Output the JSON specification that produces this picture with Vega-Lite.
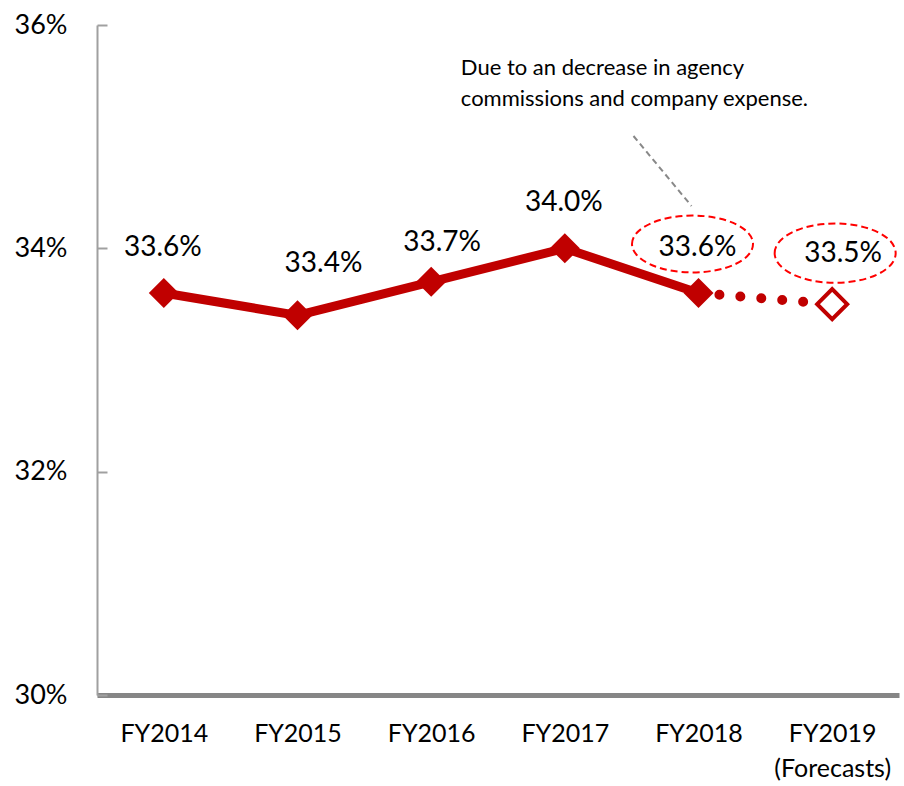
{
  "$schema": "https://vega.github.io/schema/vega-lite/v6.json",
  "width": 802,
  "height": 670,
  "autosize": {"type": "none"},
  "padding": {"left": 97, "top": 25, "right": 5, "bottom": 91},
  "background": "white",
  "config": {"view": {"stroke": null}, "font": "Lato"},
  "data": {
    "values": [
      {"year": "FY2014", "value": 0.336},
      {"year": "FY2015", "value": 0.334},
      {"year": "FY2016", "value": 0.337},
      {"year": "FY2017", "value": 0.340},
      {"year": "FY2018", "value": 0.336},
      {"year": "FY2019", "value": 0.335}
    ]
  },
  "encoding": {
    "x": {
      "field": "year",
      "type": "ordinal",
      "scale": {"type": "point", "padding": 0.5},
      "axis": {
        "title": null,
        "labelAngle": 0,
        "labelFont": "Lato",
        "labelFontSize": 25,
        "labelColor": "#000000",
        "ticks": false,
        "labelPadding": 26,
        "domainColor": "#868686",
        "domainWidth": 5,
        "labelLineHeight": 35,
        "labelExpr": "datum.value == 'FY2019' ? ['FY2019', '(Forecasts)'] : datum.label",
        "grid": false
      }
    },
    "y": {
      "field": "value",
      "type": "quantitative",
      "scale": {"domain": [0.30, 0.36], "nice": false, "zero": false},
      "axis": {
        "title": null,
        "values": [0.30, 0.32, 0.34, 0.36],
        "format": ".0%",
        "labelFont": "Lato",
        "labelFontSize": 27,
        "labelColor": "#000000",
        "tickSize": -10,
        "tickColor": "#A0A0A0",
        "tickWidth": 2,
        "domainColor": "#A0A0A0",
        "domainWidth": 2,
        "labelPadding": 40,
        "grid": false
      }
    }
  },
  "layer": [
    {
      "transform": [{"filter": "datum.year != 'FY2019'"}],
      "mark": {"type": "line", "color": "#C00000", "strokeWidth": 9}
    },
    {
      "transform": [{"filter": "datum.year == 'FY2018' || datum.year == 'FY2019'"}],
      "mark": {"type": "line", "color": "#C00000", "strokeWidth": 10, "strokeDash": [0, 21], "strokeCap": "round"}
    },
    {
      "transform": [{"filter": "datum.year != 'FY2019'"}],
      "mark": {"type": "point", "shape": "diamond", "filled": true, "color": "#C00000", "size": 900, "opacity": 1}
    },
    {
      "transform": [{"filter": "datum.year == 'FY2019'"}],
      "mark": {"type": "point", "shape": "diamond", "filled": true, "fill": "#FFFFFF", "stroke": "#C00000", "strokeWidth": 4, "size": 900, "opacity": 1}
    },
    {
      "transform": [{"filter": "datum.year == 'FY2014' || datum.year == 'FY2017' || datum.year == 'FY2018'"}],
      "mark": {"type": "text", "font": "Lato", "fontSize": 28, "color": "#000000", "align": "center", "baseline": "middle", "dy": -45, "dx": -1},
      "encoding": {"text": {"field": "value", "format": ".1%"}}
    },
    {
      "transform": [{"filter": "datum.year == 'FY2015'"}],
      "mark": {"type": "text", "font": "Lato", "fontSize": 28, "color": "#000000", "align": "center", "baseline": "middle", "dy": -51, "dx": 26},
      "encoding": {"text": {"field": "value", "format": ".1%"}}
    },
    {
      "transform": [{"filter": "datum.year == 'FY2016'"}],
      "mark": {"type": "text", "font": "Lato", "fontSize": 28, "color": "#000000", "align": "center", "baseline": "middle", "dy": -39, "dx": 11},
      "encoding": {"text": {"field": "value", "format": ".1%"}}
    },
    {
      "transform": [{"filter": "datum.year == 'FY2019'"}],
      "mark": {"type": "text", "font": "Lato", "fontSize": 28, "color": "#000000", "align": "center", "baseline": "middle", "dy": -50, "dx": 11},
      "encoding": {"text": {"field": "value", "format": ".1%"}}
    },
    {
      "transform": [{"filter": "datum.year == 'FY2018'"}],
      "mark": {"type": "point", "shape": "M-1,0A1,0.47,0,1,1,1,0A1,0.47,0,1,1,-1,0Z", "filled": false, "stroke": "#FF0000", "strokeWidth": 2, "strokeDash": [7, 4], "size": 14641, "opacity": 1, "xOffset": -6, "yOffset": -49}
    },
    {
      "transform": [{"filter": "datum.year == 'FY2019'"}],
      "mark": {"type": "point", "shape": "M-1,0A1,0.49,0,1,1,1,0A1,0.49,0,1,1,-1,0Z", "filled": false, "stroke": "#FF0000", "strokeWidth": 2, "strokeDash": [7, 4], "size": 14641, "opacity": 1, "xOffset": 3, "yOffset": -51}
    },
    {
      "transform": [{"filter": "datum.year == 'FY2017'"}],
      "mark": {"type": "text", "font": "Lato", "fontSize": 22, "color": "#000000", "align": "left", "baseline": "top", "lineHeight": 31, "dx": -104, "dy": -190},
      "encoding": {
        "text": {"value": ["Due to an decrease in agency", "commissions and company expense."]}
      }
    },
    {
      "transform": [{"filter": "datum.year == 'FY2018'"}],
      "mark": {"type": "rule", "color": "#888888", "strokeWidth": 2, "strokeDash": [6, 4], "xOffset": -65, "x2Offset": -7, "yOffset": -157, "y2Offset": -87},
      "encoding": {
        "x2": {"field": "year"},
        "y2": {"field": "value"}
      }
    }
  ]
}
